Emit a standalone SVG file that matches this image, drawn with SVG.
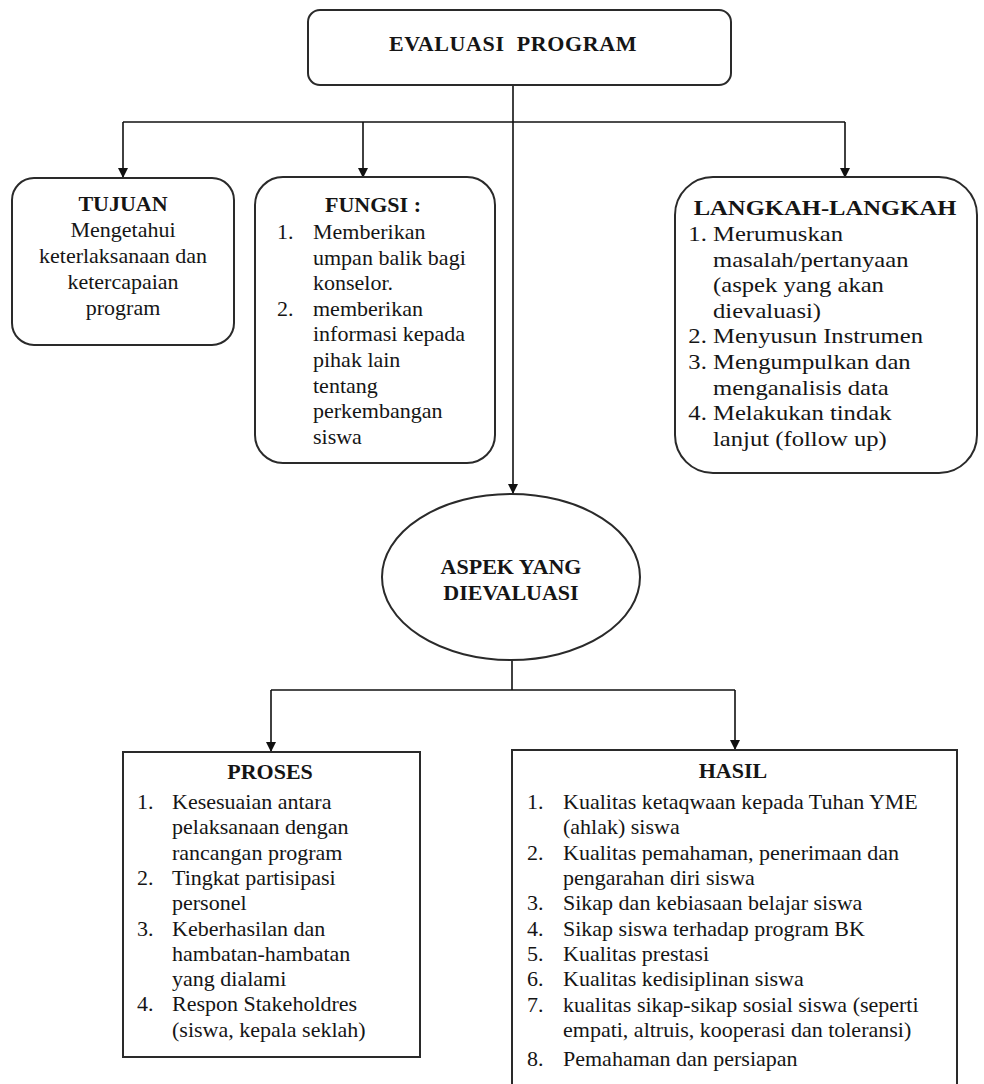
<svg xmlns="http://www.w3.org/2000/svg" width="984" height="1084" viewBox="0 0 984 1084">
<defs>
<marker id="ah" viewBox="0 0 10 10" refX="10" refY="5" markerWidth="10" markerHeight="10" markerUnits="userSpaceOnUse" orient="auto">
<path d="M0,0 L10,5 L0,10 Z" fill="#111"/>
</marker>
<style>
.box{fill:#fff;stroke:#2a2a2a;stroke-width:2}
.ln{fill:none;stroke:#111;stroke-width:1.6}
.t{font-family:"Liberation Serif","Times New Roman",serif;font-size:22px;fill:#151515}
.b{font-family:"Liberation Serif","Times New Roman",serif;font-size:22px;font-weight:bold;fill:#151515}
.c{text-anchor:middle}
</style>
</defs>
<rect width="984" height="1084" fill="#fff"/>

<g id="connectors">
<line class="ln" x1="513" y1="85" x2="513" y2="494" marker-end="url(#ah)"/>
<line class="ln" x1="123" y1="122" x2="845" y2="122"/>
<line class="ln" x1="123" y1="122" x2="123" y2="178" marker-end="url(#ah)"/>
<line class="ln" x1="363" y1="122" x2="363" y2="178" marker-end="url(#ah)"/>
<line class="ln" x1="845" y1="122" x2="845" y2="178" marker-end="url(#ah)"/>
<line class="ln" x1="512" y1="660" x2="512" y2="690"/>
<line class="ln" x1="271" y1="690" x2="735" y2="690"/>
<line class="ln" x1="271" y1="690" x2="271" y2="752" marker-end="url(#ah)"/>
<line class="ln" x1="735" y1="690" x2="735" y2="750" marker-end="url(#ah)"/>
</g>

<g id="evaluasi">
<rect class="box" x="308" y="10" width="423" height="75" rx="12"/>
<text class="b c" x="513" y="51" font-size="23" letter-spacing="0.6" xml:space="preserve">EVALUASI  PROGRAM</text>
</g>

<g id="tujuan">
<rect class="box" x="12" y="178" width="222" height="167" rx="22"/>
<text class="b c" x="123" y="211">TUJUAN</text>
<text class="t c" x="123" y="237">Mengetahui</text>
<text class="t c" x="123" y="263">keterlaksanaan dan</text>
<text class="t c" x="123" y="289">ketercapaian</text>
<text class="t c" x="123" y="315">program</text>
</g>

<g id="fungsi">
<rect class="box" x="255" y="177" width="240" height="286" rx="28"/>
<text class="b c" x="373" y="212">FUNGSI :</text>
<text class="t" x="277" y="239">1.</text>
<text class="t" x="313" y="239">Memberikan</text>
<text class="t" x="313" y="265">umpan balik bagi</text>
<text class="t" x="313" y="290">konselor.</text>
<text class="t" x="277" y="316">2.</text>
<text class="t" x="313" y="316">memberikan</text>
<text class="t" x="313" y="341">informasi kepada</text>
<text class="t" x="313" y="367">pihak lain</text>
<text class="t" x="313" y="393">tentang</text>
<text class="t" x="313" y="418">perkembangan</text>
<text class="t" x="313" y="444">siswa</text>
</g>

<g id="langkah">
<rect class="box" x="675" y="177" width="302" height="296" rx="38"/>
<g transform="translate(713 0) scale(1.12 1)">
<text class="b c" x="100" y="215">LANGKAH-LANGKAH</text>
<text class="t" x="-22" y="241">1.</text>
<text class="t" x="0" y="241">Merumuskan</text>
<text class="t" x="0" y="267">masalah/pertanyaan</text>
<text class="t" x="0" y="292">(aspek yang akan</text>
<text class="t" x="0" y="318">dievaluasi)</text>
<text class="t" x="-22" y="343">2.</text>
<text class="t" x="0" y="343">Menyusun Instrumen</text>
<text class="t" x="-22" y="369">3.</text>
<text class="t" x="0" y="369">Mengumpulkan dan</text>
<text class="t" x="0" y="395">menganalisis data</text>
<text class="t" x="-22" y="420">4.</text>
<text class="t" x="0" y="420">Melakukan tindak</text>
<text class="t" x="0" y="446">lanjut (follow up)</text>
</g>
</g>

<g id="aspek">
<ellipse class="box" cx="511" cy="577" rx="129" ry="83" stroke-width="1.6"/>
<text class="b c" x="511" y="574">ASPEK YANG</text>
<text class="b c" x="511" y="600">DIEVALUASI</text>
</g>

<g id="proses">
<rect class="box" x="123" y="752" width="297" height="305"/>
<text class="b c" x="270" y="779">PROSES</text>
<text class="t" x="137" y="809">1.</text>
<text class="t" x="172" y="809">Kesesuaian antara</text>
<text class="t" x="172" y="834">pelaksanaan dengan</text>
<text class="t" x="172" y="860">rancangan program</text>
<text class="t" x="137" y="885">2.</text>
<text class="t" x="172" y="885">Tingkat partisipasi</text>
<text class="t" x="172" y="910">personel</text>
<text class="t" x="137" y="936">3.</text>
<text class="t" x="172" y="936">Keberhasilan dan</text>
<text class="t" x="172" y="961">hambatan-hambatan</text>
<text class="t" x="172" y="986">yang dialami</text>
<text class="t" x="137" y="1011">4.</text>
<text class="t" x="172" y="1011">Respon Stakeholdres</text>
<text class="t" x="172" y="1037">(siswa, kepala seklah)</text>
</g>

<g id="hasil">
<rect class="box" x="512" y="750" width="445" height="345"/>
<text class="b c" x="733" y="778">HASIL</text>
<text class="t" x="527" y="809">1.</text>
<text class="t" x="563" y="809">Kualitas ketaqwaan kepada Tuhan YME</text>
<text class="t" x="563" y="834">(ahlak) siswa</text>
<text class="t" x="527" y="860">2.</text>
<text class="t" x="563" y="860">Kualitas pemahaman, penerimaan dan</text>
<text class="t" x="563" y="885">pengarahan diri siswa</text>
<text class="t" x="527" y="910">3.</text>
<text class="t" x="563" y="910">Sikap dan kebiasaan belajar siswa</text>
<text class="t" x="527" y="936">4.</text>
<text class="t" x="563" y="936">Sikap siswa terhadap program BK</text>
<text class="t" x="527" y="961">5.</text>
<text class="t" x="563" y="961">Kualitas prestasi</text>
<text class="t" x="527" y="986">6.</text>
<text class="t" x="563" y="986">Kualitas kedisiplinan siswa</text>
<text class="t" x="527" y="1012">7.</text>
<text class="t" x="563" y="1012">kualitas sikap-sikap sosial siswa (seperti</text>
<text class="t" x="563" y="1037">empati, altruis, kooperasi dan toleransi)</text>
<text class="t" x="527" y="1066">8.</text>
<text class="t" x="563" y="1066">Pemahaman dan persiapan</text>
</g>
</svg>
